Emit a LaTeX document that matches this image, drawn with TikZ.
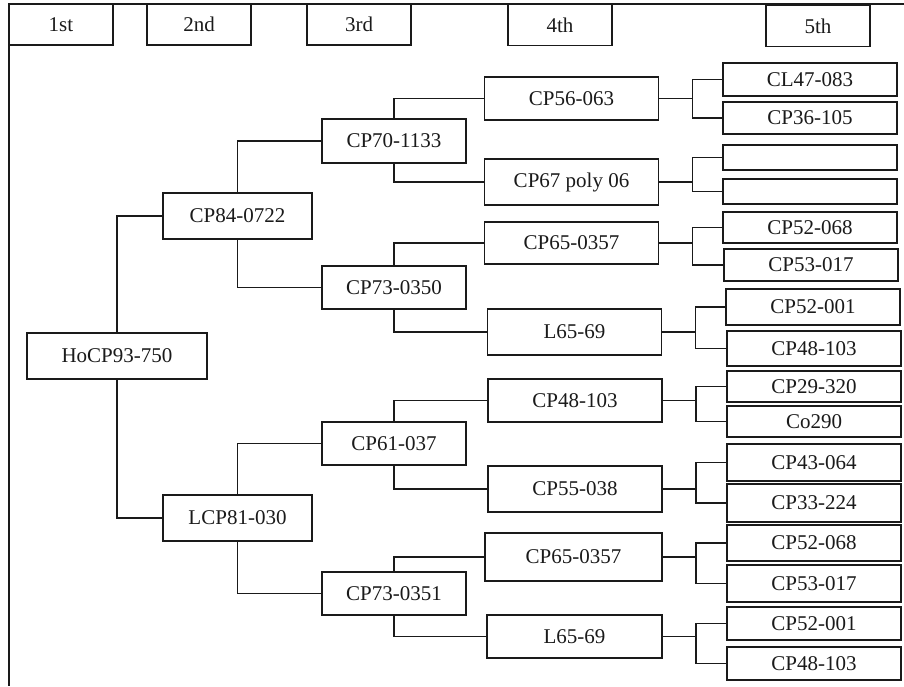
\documentclass[tikz,border=0pt]{standalone}
\usepackage{fontspec}
\setmainfont{Liberation Serif}
\definecolor{treeink}{HTML}{1A1A1A}

\begin{document}
\begin{tikzpicture}[
  x=1pt,
  y=-1pt,
  every node/.style={font=\fontsize{21}{25}\selectfont, treeink},
  box/.style={draw=treeink, line width=1.2pt, rectangle, inner sep=0pt,
              outer sep=0pt},
  hdr/.style={box, minimum width=104, minimum height=41},
  gen1/.style={box, minimum width=180, minimum height=46},
  gen2/.style={box, minimum width=149, minimum height=46},
  gen3/.style={box, minimum width=144, minimum height=43},
  gen4/.style={box, minimum width=174, minimum height=45},
  gen5/.style={box, minimum width=174, minimum height=33},
  link/.style={treeink, line width=1.2pt},
  frame/.style={treeink, line width=1.2pt}
]
  \useasboundingbox (0,0) rectangle (904,686);

  % ---- generation headers ----
  \node[hdr] (h1) at (61,24.5) {1st};
  \node[hdr] (h2) at (199,24.5) {2nd};
  \node[hdr] (h3) at (359,24.5) {3rd};
  \node[hdr] (h4) at (560,25) {4th};
  \node[hdr] (h5) at (818,26) {5th};

  % ---- frame (top and left edges only) ----
  \coordinate (tr) at (904,4);
  \coordinate (bl) at (9,686);
  \draw[frame] (h1.north west) -- (tr);
  \draw[frame] (h1.north west) -- (bl);

  % ---- 1st and 2nd ----
  \node[gen1] (ho)  at (117,356)   {HoCP93-750};
  \node[gen2] (c84) at (237.5,216) {CP84-0722};
  \node[gen2] (l81) at (237.5,518) {LCP81-030};

  % ---- 3rd ----
  \node[gen3, minimum height=44] (c70)  at (394,141)   {CP70-1133};
  \node[gen3]                    (c73a) at (394,287.5) {CP73-0350};
  \node[gen3]                    (c61)  at (394,443.5) {CP61-037};
  \node[gen3]                    (c73b) at (394,593.5) {CP73-0351};

  % ---- 4th ----
  \node[gen4, minimum height=43] (c56)  at (571.5,98.5) {CP56-063};
  \node[gen4, minimum height=46] (c67)  at (571.5,182)  {CP67 poly 06};
  \node[gen4, minimum height=42] (c65a) at (571.5,243)  {CP65-0357};
  \node[gen4, minimum height=46] (l65a) at (574.5,332)  {L65-69};
  \node[gen4, minimum height=43] (c48)  at (575,400.5)  {CP48-103};
  \node[gen4, minimum height=46] (c55)  at (575,489)    {CP55-038};
  \node[gen4, minimum width=177, minimum height=48] (c65b) at (573.5,557) {CP65-0357};
  \node[gen4, minimum width=175, minimum height=43] (l65b) at (574.5,636.5) {L65-69};

  % ---- 5th ----
  \node[gen5]                    (cl47)  at (810,79.5)  {CL47-083};
  \node[gen5, minimum height=32] (cp36)  at (810,118)   {CP36-105};
  \node[gen5, minimum height=25] (ea)    at (810,157.5) {};
  \node[gen5, minimum height=25] (eb)    at (810,191.5) {};
  \node[gen5, minimum height=31] (c52a)  at (810,227.5) {CP52-068};
  \node[gen5, minimum height=32] (c53a)  at (811,265)   {CP53-017};
  \node[gen5, minimum height=36] (c52b)  at (813,307)   {CP52-001};
  \node[gen5, minimum height=35] (c48b)  at (814,348.5) {CP48-103};
  \node[gen5, minimum height=31] (c29)   at (814,386.5) {CP29-320};
  \node[gen5, minimum height=31] (co290) at (814,421.5) {Co290};
  \node[gen5, minimum height=37] (c43)   at (814,462.5) {CP43-064};
  \node[gen5, minimum height=38] (c33)   at (814,503)   {CP33-224};
  \node[gen5, minimum height=36] (c52c)  at (814,543)   {CP52-068};
  \node[gen5, minimum height=37] (c53b)  at (814,583.5) {CP53-017};
  \node[gen5]                    (c52d)  at (814,623.5) {CP52-001};
  \node[gen5]                    (c48c)  at (814,663.5) {CP48-103};

  % ---- 1st -> 2nd -> 3rd -> 4th (elbows) ----
  \draw[link] (ho.north) |- (c84.west);
  \draw[link] (ho.south) |- (l81.west);
  \draw[link] (c84.north) |- (c70.west);
  \draw[link] (c84.south) |- (c73a.west);
  \draw[link] (l81.north) |- (c61.west);
  \draw[link] (l81.south) |- (c73b.west);
  \draw[link] (c70.north) |- (c56.west);
  \draw[link] (c70.south) |- (c67.west);
  \draw[link] (c73a.north) |- (c65a.west);
  \draw[link] (c73a.south) |- (l65a.west);
  \draw[link] (c61.north) |- (c48.west);
  \draw[link] (c61.south) |- (c55.west);
  \draw[link] (c73b.north) |- (c65b.west);
  \draw[link] (c73b.south) |- (l65b.west);

  % ---- 4th -> 5th (forks) ----
  \draw[link] (c56.east) -- ++(34,0) coordinate (f56) |- (cl47.west);
  \draw[link] (f56) |- (cp36.west);
  \draw[link] (c67.east) -- ++(34,0) coordinate (f67) |- (ea.west);
  \draw[link] (f67) |- (eb.west);
  \draw[link] (c65a.east) -- ++(34,0) coordinate (f65a) |- (c52a.west);
  \draw[link] (f65a) |- (c53a.west);
  \draw[link] (l65a.east) -- ++(34,0) coordinate (fl65a) |- (c52b.west);
  \draw[link] (fl65a) |- (c48b.west);
  \draw[link] (c48.east) -- ++(34,0) coordinate (f48) |- (c29.west);
  \draw[link] (f48) |- (co290.west);
  \draw[link] (c55.east) -- ++(34,0) coordinate (f55) |- (c43.west);
  \draw[link] (f55) |- (c33.west);
  \draw[link] (c65b.east) -- ++(34,0) coordinate (f65b) |- (c52c.west);
  \draw[link] (f65b) |- (c53b.west);
  \draw[link] (l65b.east) -- ++(34,0) coordinate (fl65b) |- (c52d.west);
  \draw[link] (fl65b) |- (c48c.west);
\end{tikzpicture}
\end{document}
